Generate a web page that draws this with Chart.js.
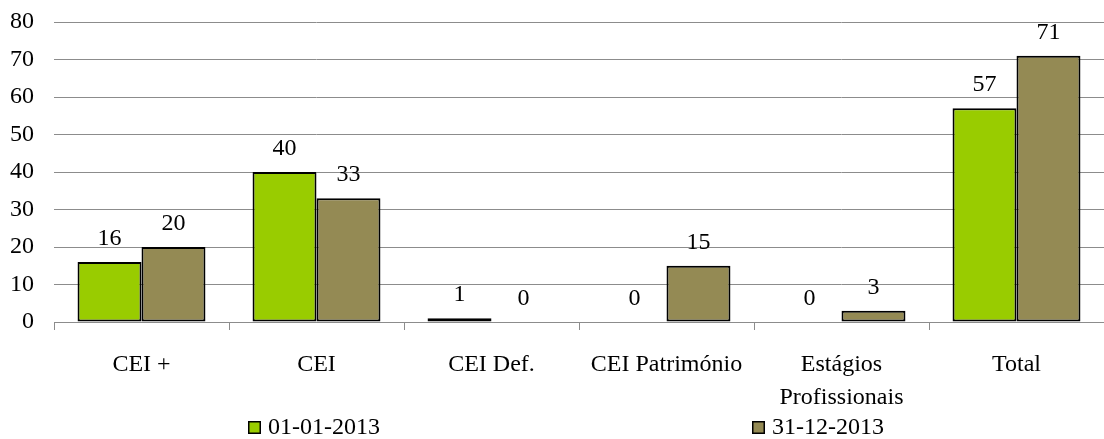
<!DOCTYPE html>
<html>
<head>
<meta charset="utf-8">
<script src="https://cdn.jsdelivr.net/npm/chart.js@4/dist/chart.umd.min.js"></script>
<style>
  html, body { margin: 0; padding: 0; background: #ffffff; }
  #wrap { position: relative; width: 1104px; height: 439px; }
  .pre { font-family: 'Liberation Serif'; position: absolute; left: -9999px; }
</style>
</head>
<body>
<span class="pre">CEI 0123456789</span>
<div id="wrap"><canvas id="c" width="1104" height="439"></canvas></div>
<script>
const categories = ["CEI +", "CEI", "CEI Def.", "CEI Património", ["Estágios", "Profissionais"], "Total"];
const seriesNames = ["01-01-2013", "31-12-2013"];
const values0101 = [16, 40, 1, 0, 0, 57];
const values3112 = [20, 33, 0, 15, 3, 71];
const yTicks = [0, 10, 20, 30, 40, 50, 60, 70, 80];

const FONT = "'Liberation Serif', 'Times New Roman', serif";
const colors = ["#99CC00", "#948A54"];

const valueLabels = {
  id: "valueLabels",
  afterDatasetsDraw(chart) {
    const ctx = chart.ctx;
    ctx.save();
    ctx.font = "24px " + FONT;
    ctx.fillStyle = "#000";
    ctx.textAlign = "center";
    ctx.textBaseline = "alphabetic";
    chart.data.datasets.forEach((ds, di) => {
      const meta = chart.getDatasetMeta(di);
      meta.data.forEach((bar, i) => {
        ctx.fillText(String(ds.data[i]), bar.x, bar.y - 17);
      });
    });
    ctx.restore();
  }
};

const customLegend = {
  id: "customLegend",
  afterDraw(chart) {
    const ctx = chart.ctx;
    const items = [{x: 248}, {x: 752}];
    ctx.save();
    ctx.font = "24px " + FONT;
    ctx.textBaseline = "middle";
    ctx.textAlign = "left";
    chart.data.datasets.forEach((ds, di) => {
      const x = items[di].x, y = 421;
      ctx.fillStyle = ds.backgroundColor;
      ctx.fillRect(x, y, 13, 13);
      ctx.strokeStyle = "#000";
      ctx.lineWidth = 1.5;
      ctx.strokeRect(x + 0.75, y + 0.75, 11.5, 11.5);
      ctx.fillStyle = "#000";
      ctx.fillText(ds.label, x + 20, y + 7);
    });
    ctx.restore();
  }
};

function draw() {
  new Chart(document.getElementById("c"), {
    type: "bar",
    data: {
      labels: categories,
      datasets: [
        { label: seriesNames[0], data: values0101, backgroundColor: colors[0] },
        { label: seriesNames[1], data: values3112, backgroundColor: colors[1] }
      ]
    },
    options: {
      responsive: false,
      animation: false,
      devicePixelRatio: 1,
      layout: { padding: { top: 22, right: 0, bottom: 0, left: 0 } },
      datasets: {
        bar: {
          categoryPercentage: 0.731,
          barPercentage: 1.0,
          borderColor: "#000",
          borderWidth: (c) => (c.raw === 0 ? 0 : 2),
          borderSkipped: false
        }
      },
      plugins: {
        legend: { display: false },
        tooltip: { enabled: false }
      },
      scales: {
        x: {
          afterFit(scale) { scale.height = 117; scale.paddingLeft = 0; scale.paddingRight = 0; },
          grid: {
            display: true,
            drawOnChartArea: false,
            drawTicks: true,
            tickLength: 8,
            color: "#8c8c8c",
            offset: true
          },
          border: { display: true, color: "#8c8c8c", width: 1 },
          ticks: {
            color: "#000",
            font: { family: FONT, size: 24, lineHeight: 1.35 },
            padding: 19,
            maxRotation: 0,
            autoSkip: false
          }
        },
        y: {
          min: 0,
          max: 80,
          afterFit(scale) { scale.width = 54; scale.paddingTop = 0; scale.paddingBottom = 0; },
          afterBuildTicks(scale) { scale.ticks = yTicks.map(v => ({ value: v })); },
          grid: { color: "#8c8c8c", drawTicks: false, lineWidth: 1 },
          border: { display: false },
          ticks: {
            color: "#000",
            font: { family: FONT, size: 24 },
            padding: 20
          }
        }
      }
    },
    plugins: [valueLabels, customLegend]
  });
}

if (document.fonts && document.fonts.load) {
  Promise.all([
    document.fonts.load("24px 'Liberation Serif'"),
    document.fonts.load("24px 'Liberation Serif'", "Património Estágios")
  ]).then(draw, draw);
} else {
  draw();
}
</script>
</body>
</html>
